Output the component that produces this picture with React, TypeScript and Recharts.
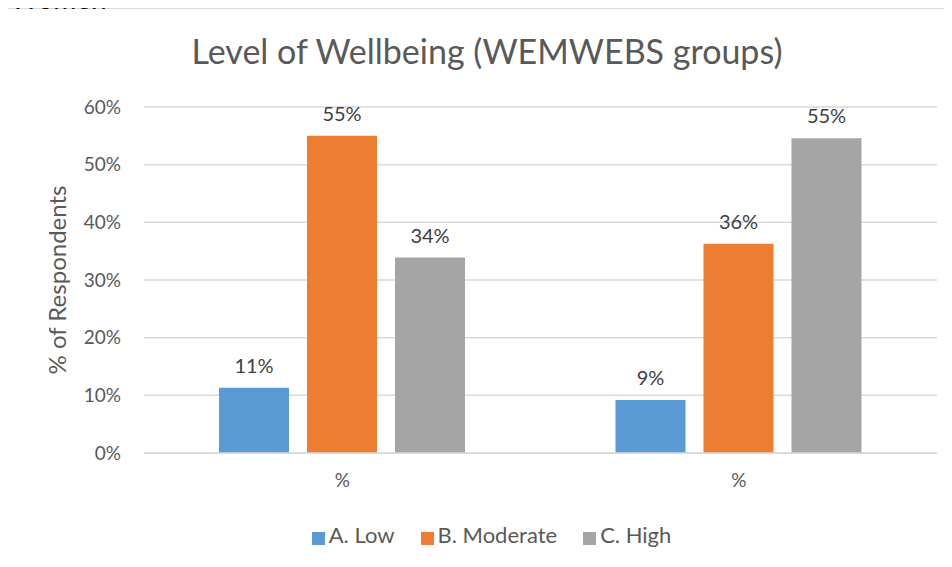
import { BarChart, Bar, XAxis, YAxis, CartesianGrid, Legend, LabelList } from "recharts";

const categories = ["%", "%"];
const lowValues = [0.113, 0.092];
const moderateValues = [0.55, 0.363];
const highValues = [0.339, 0.546];
const yTicks = [0, 0.1, 0.2, 0.3, 0.4, 0.5, 0.6];

const data = categories.map((name, i) => ({
  name,
  low: lowValues[i],
  moderate: moderateValues[i],
  high: highValues[i],
}));

const FONT = "Lato, 'Open Sans', sans-serif";
const TEXT = "#595959";

const pct = (v: number) => `${Math.round(v * 100)}%`;

function YLabel(props: any) {
  const { viewBox } = props;
  const x = viewBox.x + 48;
  const y = viewBox.y + viewBox.height / 2;
  return (
    <text
      x={x}
      y={y}
      transform={`rotate(-90, ${x}, ${y})`}
      textAnchor="middle"
      dominantBaseline="central"
      fill={TEXT}
      fontSize={24}
      fontFamily={FONT}
    >
      % of Respondents
    </text>
  );
}

export default function App() {
  return (
    <div style={{ position: "relative", width: 944, height: 559, fontFamily: FONT }}>
      <div
        style={{
          position: "absolute",
          top: -25,
          left: 2,
          fontSize: 28,
          lineHeight: "30px",
          color: "#000",
          whiteSpace: "nowrap",
          zIndex: 2,
        }}
      >
        Women
      </div>
      <div
        style={{
          position: "absolute",
          left: -1,
          top: 0,
          width: 945,
          height: 559,
          borderTop: "1px solid #d9d9d9",
          borderLeft: "1px solid #d9d9d9",
          boxSizing: "border-box",
        }}
      />
      <div
        style={{
          position: "absolute",
          top: 22,
          left: 0,
          width: 958,
          textAlign: "center",
          fontSize: 34,
          color: TEXT,
        }}
      >
        Level of Wellbeing (WEMWEBS groups)
      </div>
      <div style={{ position: "absolute", top: 1, left: 0 }}>
        <BarChart
          width={943}
          height={558}
          data={data}
          margin={{ top: 98, right: 14, left: 0, bottom: 42 }}
          barGap={18}
          barSize={70}
        >
          <CartesianGrid vertical={false} stroke="#d9d9d9" strokeWidth={1.5} />
          <XAxis
            dataKey="name"
            axisLine={{ stroke: "#d9d9d9", strokeWidth: 1.5 }}
            tickLine={false}
            tickSize={0}
            tickMargin={21}
            height={45}
            tick={{ fill: TEXT, fontSize: 19, fontFamily: FONT }}
          />
          <YAxis
            width={136}
            domain={[0, 0.6]}
            ticks={yTicks}
            tickFormatter={pct}
            axisLine={false}
            tickLine={false}
            tickSize={0}
            tickMargin={23}
            tick={{ fill: TEXT, fontSize: 19, fontFamily: FONT }}
            label={<YLabel />}
          />
          <Legend
            verticalAlign="bottom"
            iconType="square"
            iconSize={13}
            wrapperStyle={{ top: 512, left: 32, fontFamily: FONT }}
            formatter={(value: string) => (
              <span style={{ color: TEXT, fontSize: 22, marginRight: 16 }}>{value}</span>
            )}
          />
          <Bar dataKey="low" name="A. Low" fill="#5b9bd5" isAnimationActive={false}>
            <LabelList dataKey="low" position="top" offset={15} formatter={pct} fill="#404040" fontSize={20} fontFamily={FONT} />
          </Bar>
          <Bar dataKey="moderate" name="B. Moderate" fill="#ed7d31" isAnimationActive={false}>
            <LabelList dataKey="moderate" position="top" offset={15} formatter={pct} fill="#404040" fontSize={20} fontFamily={FONT} />
          </Bar>
          <Bar dataKey="high" name="C. High" fill="#a5a5a5" isAnimationActive={false}>
            <LabelList dataKey="high" position="top" offset={15} formatter={pct} fill="#404040" fontSize={20} fontFamily={FONT} />
          </Bar>
        </BarChart>
      </div>
    </div>
  );
}
